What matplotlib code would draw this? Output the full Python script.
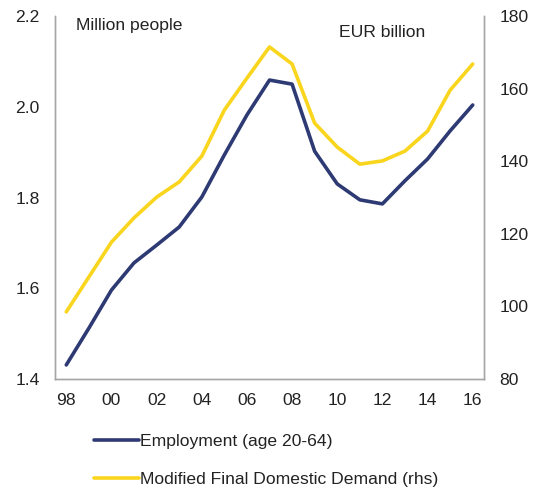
import matplotlib.pyplot as plt
import numpy as np

plt.rcParams['font.family'] = ['Liberation Sans', 'DejaVu Sans']

years = np.arange(1998, 2017)
tick_labels = ['98', '00', '02', '04', '06', '08', '10', '12', '14', '16']
employment = [1.431, 1.512, 1.596, 1.656, 1.695, 1.735, 1.801, 1.894, 1.982, 2.059,
              2.050, 1.902, 1.830, 1.795, 1.786, 1.837, 1.885, 1.947, 2.004]
mfdd = [98.5, 108.1, 117.7, 124.4, 130.1, 134.3, 141.4, 154.1, 162.9, 171.5,
        166.8, 150.5, 143.9, 139.2, 140.1, 142.8, 148.3, 159.6, 166.8]

navy = '#2E3A73'
yellow = '#FAD51E'
grey = '#A6A6A6'
txt = '#222222'
fs = 12.6

fig = plt.figure(figsize=(5.35, 4.88), dpi=100)
ax1 = fig.add_axes([0.1028, 0.2234, 0.8019, 0.7436])
ax2 = ax1.twinx()

l1, = ax1.plot(years, employment, color=navy, lw=2.6, solid_capstyle='round',
               label='Employment (age 20-64)')
l2, = ax2.plot(years, mfdd, color=yellow, lw=2.6, solid_capstyle='round',
               label='Modified Final Domestic Demand (rhs)')
ax1.set_zorder(ax2.get_zorder() + 1)
ax1.patch.set_visible(False)

ax1.set_xlim(1997.5, 2016.5)
ax1.set_ylim(1.4, 2.2)
ax2.set_ylim(80, 180)
ax1.set_yticks([1.4, 1.6, 1.8, 2.0, 2.2])
ax1.set_yticklabels(['1.4', '1.6', '1.8', '2.0', '2.2'])
ax2.set_yticks([80, 100, 120, 140, 160, 180])
ax1.set_xticks(years[::2])
ax1.set_xticklabels(tick_labels)

for ax in (ax1, ax2):
    ax.spines['top'].set_visible(False)
    for s in ('left', 'right', 'bottom'):
        ax.spines[s].set_color(grey)
        ax.spines[s].set_linewidth(1.0)
    ax.tick_params(length=0, labelsize=fs, colors=txt)
ax1.tick_params(axis='y', pad=11)
ax2.tick_params(axis='y', pad=11)
ax1.tick_params(axis='x', pad=10)

ax1.text(0.05, 0.995, 'Million people', transform=ax1.transAxes, fontsize=fs,
         color=txt, va='top', ha='left')
ax1.text(0.862, 0.975, 'EUR billion', transform=ax1.transAxes, fontsize=fs,
         color=txt, va='top', ha='right')

fig.legend(handles=[l1, l2], loc='lower left', bbox_to_anchor=(0.146, -0.03),
           frameon=False, fontsize=fs, handlelength=2.6, handletextpad=0.05,
           labelspacing=1.3, labelcolor=txt)

fig.savefig('out.png', dpi=100)
